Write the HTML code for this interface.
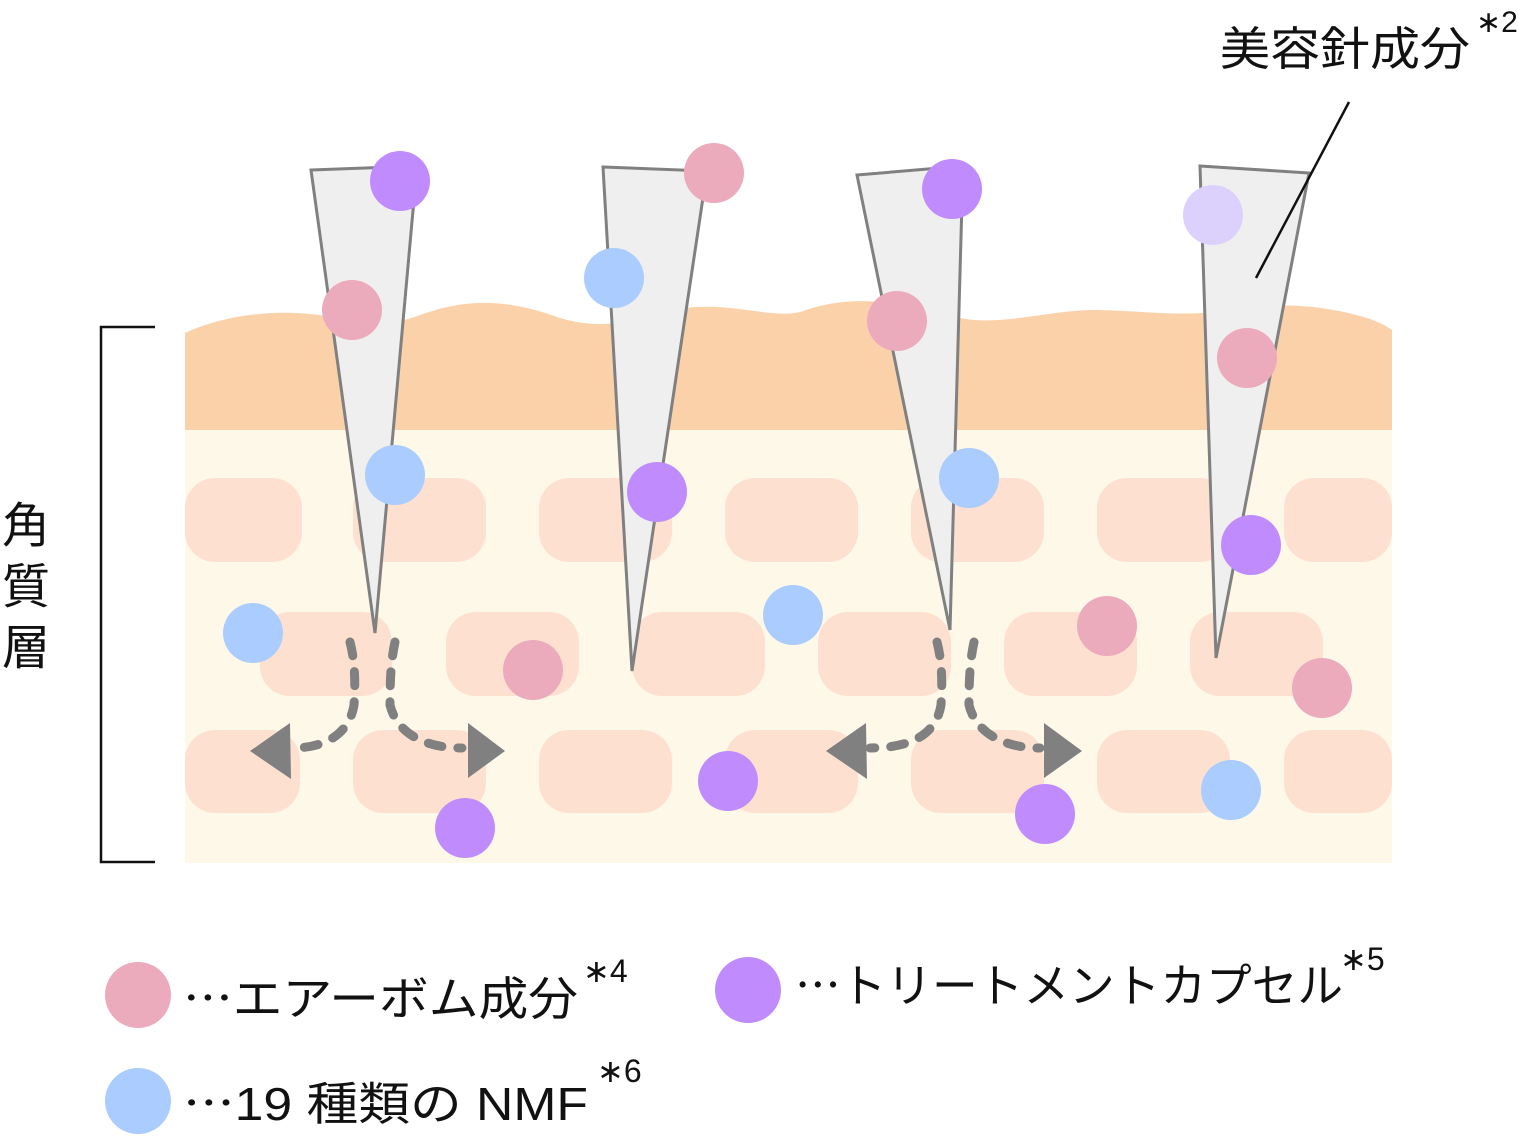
<!DOCTYPE html>
<html><head><meta charset="utf-8"><style>
html,body{margin:0;padding:0;background:#fff;}
svg{display:block;}
text{font-family:"Liberation Sans","Noto Sans CJK JP",sans-serif;fill:#111;}
.cjk{font-family:"Noto Sans CJK JP",sans-serif;}
</style></head><body>
<svg width="1518" height="1138" viewBox="0 0 1518 1138" xmlns="http://www.w3.org/2000/svg">
<rect x="185" y="420" width="1207" height="443" fill="#fef8e9"/>
<path d="M185,333 C230,312 290,308 335,318 C370,326 390,326 420,315 C470,297 510,300 560,318 C600,330 630,322 665,312 C720,297 770,320 800,312 C850,294 890,300 960,318 C1000,326 1040,312 1090,310 C1140,310 1180,318 1230,310 C1280,302 1320,305 1360,316 C1375,320 1385,325 1392,330 L1392,430 L185,430 Z" fill="#fbd1aa"/>
<g fill="#fee0d0">
<rect x="185" y="478" width="117" height="84" rx="30"/>
<rect x="353" y="478" width="133" height="84" rx="30"/>
<rect x="539" y="478" width="133" height="84" rx="30"/>
<rect x="725" y="478" width="133" height="84" rx="30"/>
<rect x="911" y="478" width="133" height="84" rx="30"/>
<rect x="1097" y="478" width="133" height="84" rx="30"/>
<rect x="1284" y="478" width="108" height="84" rx="30"/>
<rect x="260" y="612" width="132" height="84" rx="30"/>
<rect x="446" y="612" width="133" height="84" rx="30"/>
<rect x="632" y="612" width="133" height="84" rx="30"/>
<rect x="818" y="612" width="133" height="84" rx="30"/>
<rect x="1004" y="612" width="133" height="84" rx="30"/>
<rect x="1190" y="612" width="133" height="84" rx="30"/>
<rect x="185" y="730" width="115" height="83" rx="30"/>
<rect x="353" y="730" width="133" height="83" rx="30"/>
<rect x="539" y="730" width="133" height="83" rx="30"/>
<rect x="725" y="730" width="133" height="83" rx="30"/>
<rect x="911" y="730" width="133" height="83" rx="30"/>
<rect x="1097" y="730" width="133" height="83" rx="30"/>
<rect x="1284" y="730" width="108" height="83" rx="30"/>
</g>
<rect x="185" y="420" width="1207" height="10" fill="#fbd1aa"/>
<g fill="#efefef" stroke="#808080" stroke-width="3" stroke-linejoin="miter">
<polygon points="311,170 417,166 375,633"/>
<polygon points="603,167 707,171 632,671"/>
<polygon points="857,175 963,166 950,630"/>
<polygon points="1200,166 1309,173 1216,658"/>
</g>
<line x1="1349" y1="102" x2="1256" y2="278" stroke="#111" stroke-width="2.5"/>
<g fill="none" stroke="#808080" stroke-width="9" stroke-linecap="round" stroke-dasharray="14,16">
<path d="M350,642 C356,665 355,690 354,705 C350,730 330,748 292,748"/>
<path d="M395,642 C390,665 390,690 390,705 C396,730 420,748 462,748"/>
<path d="M937,642 C943,665 942,690 941,705 C937,730 917,748 870,748"/>
<path d="M974,642 C969,665 969,690 969,705 C975,730 1000,748 1040,748"/>
</g>
<g fill="#808080">
<polygon points="250,751 290,723 291,779"/>
<polygon points="505,751 468,723 468,778"/>
<polygon points="826,751 866,723 867,779"/>
<polygon points="1082,751 1044,723 1044,778"/>
</g>
<g>
<circle cx="400" cy="181" r="30" fill="#c08cfd"/>
<circle cx="352" cy="310" r="30" fill="#ecaabd"/>
<circle cx="395" cy="475" r="30" fill="#aaccfe"/>
<circle cx="714" cy="173" r="30" fill="#ecaabd"/>
<circle cx="614" cy="278" r="30" fill="#aaccfe"/>
<circle cx="657" cy="492" r="30" fill="#c08cfd"/>
<circle cx="952" cy="189" r="30" fill="#c08cfd"/>
<circle cx="897" cy="321" r="30" fill="#ecaabd"/>
<circle cx="969" cy="478" r="30" fill="#aaccfe"/>
<circle cx="1213" cy="215" r="30" fill="#dcd0fc"/>
<circle cx="1247" cy="358" r="30" fill="#ecaabd"/>
<circle cx="1251" cy="545" r="30" fill="#c08cfd"/>
<circle cx="253" cy="633" r="30" fill="#aaccfe"/>
<circle cx="533" cy="670" r="30" fill="#ecaabd"/>
<circle cx="793" cy="615" r="30" fill="#aaccfe"/>
<circle cx="1107" cy="626" r="30" fill="#ecaabd"/>
<circle cx="1322" cy="688" r="30" fill="#ecaabd"/>
<circle cx="728" cy="781" r="30" fill="#c08cfd"/>
<circle cx="465" cy="828" r="30" fill="#c08cfd"/>
<circle cx="1045" cy="814" r="30" fill="#c08cfd"/>
<circle cx="1231" cy="790" r="30" fill="#aaccfe"/>
</g>
<path d="M155,327 L101,327 L101,862 L155,862" fill="none" stroke="#111" stroke-width="2.5"/>
<text x="2" y="542" font-size="48">角</text>
<text x="2" y="603" font-size="48">質</text>
<text x="2" y="664" font-size="48">層</text>
<text x="1220" y="65" font-size="46" textLength="250" lengthAdjust="spacingAndGlyphs">美容針成分</text>
<text x="1476" y="32" font-size="30">∗2</text>
<circle cx="138" cy="995" r="33" fill="#ecaabd"/>
<circle cx="748" cy="990" r="33" fill="#c08cfd"/>
<circle cx="138" cy="1101" r="33" fill="#aaccfe"/>
<text x="183" y="1015" font-size="46" textLength="395" lengthAdjust="spacingAndGlyphs"><tspan class="cjk">…</tspan>エアーボム成分</text>
<text x="583" y="982" font-size="32">∗4</text>
<text x="795" y="1002" font-size="46" textLength="548" lengthAdjust="spacingAndGlyphs"><tspan class="cjk">…</tspan>トリートメントカプセル</text>
<text x="1340" y="970" font-size="32">∗5</text>
<text x="183" y="1120" font-size="46" textLength="405" lengthAdjust="spacingAndGlyphs"><tspan class="cjk">…</tspan>19 種類の NMF</text>
<text x="597" y="1082" font-size="32">∗6</text>
</svg>
</body></html>
